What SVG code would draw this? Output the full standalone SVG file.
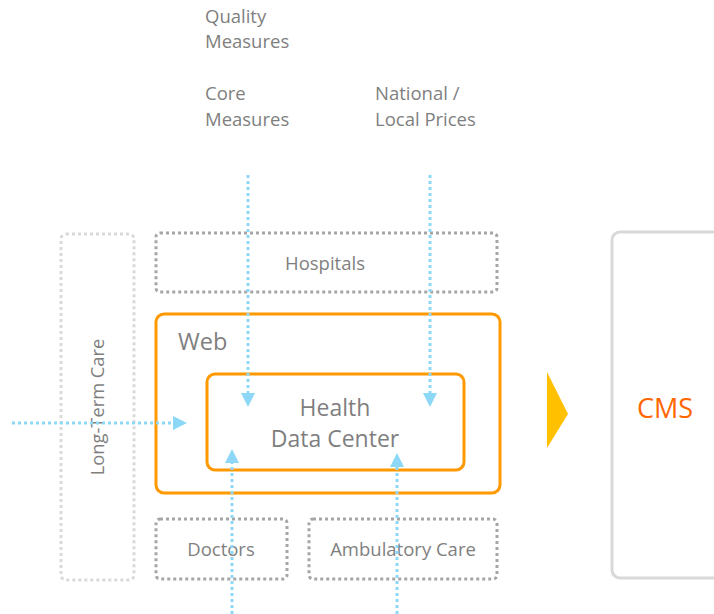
<svg xmlns="http://www.w3.org/2000/svg" width="714" height="614" viewBox="0 0 714 614">
<defs>
<style>
.t{font-family:"Open Sans","Liberation Sans",sans-serif;fill:#7f7f7f}
.dg{fill:none;stroke:#a6a6a6;stroke-width:3;stroke-dasharray:3 3}
.dl{fill:none;stroke:#d9d9d9;stroke-width:3;stroke-dasharray:3 3}
.or{fill:none;stroke:#ff9900;stroke-width:3}
.ar{fill:none;stroke:#8dd7f7;stroke-width:3;stroke-dasharray:3 3}
</style>
</defs>
<rect width="714" height="614" fill="#ffffff"/>
<g id="labels">
<text class="t" x="205" y="23" font-size="18.5">Quality</text>
<text class="t" x="205" y="48" font-size="18.5">Measures</text>
<text class="t" x="205" y="100" font-size="18.5">Core</text>
<text class="t" x="205" y="126" font-size="18.5">Measures</text>
<text class="t" x="375" y="100" font-size="18.5">National /</text>
<text class="t" x="375" y="126" font-size="18.5">Local Prices</text>
</g>
<g id="long-term-care">
<rect class="dl" x="61" y="234" width="73" height="346" rx="5"/>
<text class="t" font-size="18.3" text-anchor="middle" transform="translate(104,407) rotate(-90)">Long-Term Care</text>
</g>
<g id="hospitals">
<rect class="dg" x="156" y="233" width="341" height="59" rx="4"/>
<text class="t" x="325" y="270" font-size="18.5" text-anchor="middle">Hospitals</text>
</g>
<g id="web">
<rect class="or" x="156" y="314" width="344" height="179" rx="8"/>
<text class="t" x="178" y="350" font-size="23.5">Web</text>
</g>
<g id="health-data-center">
<rect class="or" x="207" y="374" width="257" height="96" rx="8"/>
<text class="t" x="335" y="416" font-size="23" text-anchor="middle">Health</text>
<text class="t" x="335" y="447" font-size="23" text-anchor="middle">Data Center</text>
</g>
<g id="doctors">
<rect class="dg" x="156" y="519" width="131" height="60" rx="4"/>
<text class="t" x="221" y="556" font-size="18.5" text-anchor="middle">Doctors</text>
</g>
<g id="ambulatory-care">
<rect class="dg" x="309" y="519" width="188" height="60" rx="4"/>
<text class="t" x="403" y="556" font-size="18.5" text-anchor="middle">Ambulatory Care</text>
</g>
<g id="arrow-to-cms">
<polygon points="547,372 568,414 547,448" fill="#ffc000"/>
</g>
<g id="cms">
<rect x="612" y="232" width="120" height="346" rx="8" fill="#ffffff" stroke="#d9d9d9" stroke-width="3"/>
<text x="637" y="418" font-size="27" font-family="Open Sans, Liberation Sans, sans-serif" fill="#ff6600">CMS</text>
</g>
<g id="connectors">
<line class="ar" x1="248" y1="175" x2="248" y2="393"/>
<polygon points="241,393 255,393 248,407" fill="#8dd7f7"/>
<line class="ar" x1="430" y1="175" x2="430" y2="393"/>
<polygon points="423,393 437,393 430,407" fill="#8dd7f7"/>
<line class="ar" x1="12" y1="423" x2="173" y2="423"/>
<polygon points="173,416 173,430 187,423" fill="#8dd7f7"/>
<line class="ar" x1="232" y1="614" x2="232" y2="463"/>
<polygon points="225,463 239,463 232,449" fill="#8dd7f7"/>
<line class="ar" x1="397" y1="614" x2="397" y2="467"/>
<polygon points="390,467 404,467 397,453" fill="#8dd7f7"/>
</g>
</svg>
